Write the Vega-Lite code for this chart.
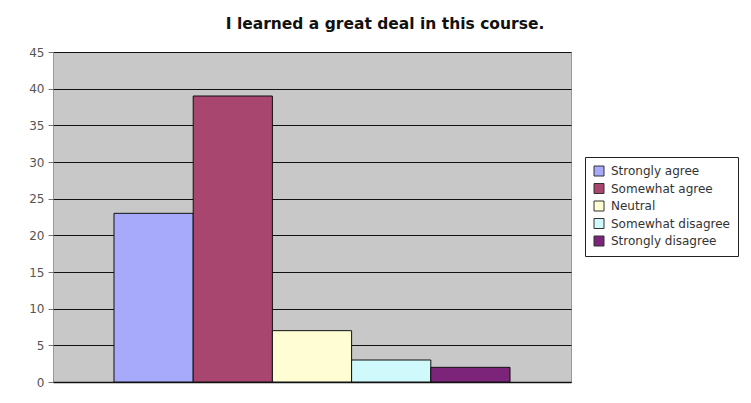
{
  "$schema": "https://vega.github.io/schema/vega-lite/v6.json",
  "autosize": {"type": "none"},
  "width": 518,
  "height": 330,
  "padding": {"left": 53, "top": 52, "right": 180, "bottom": 21},
  "background": "white",
  "title": {
    "text": "I learned a great deal in this course.",
    "font": "DejaVu Sans",
    "fontSize": 15.5,
    "fontWeight": "bold",
    "color": "#111111",
    "anchor": "middle",
    "frame": "group",
    "dx": 73,
    "offset": 14
  },
  "data": {
    "values": [
      {"response": "Strongly agree", "count": 23},
      {"response": "Somewhat agree", "count": 39},
      {"response": "Neutral", "count": 7},
      {"response": "Somewhat disagree", "count": 3},
      {"response": "Strongly disagree", "count": 2}
    ]
  },
  "mark": {"type": "bar", "stroke": "#111111", "strokeWidth": 1, "opacity": 1},
  "encoding": {
    "x": {
      "field": "response",
      "type": "nominal",
      "sort": null,
      "scale": {"paddingInner": 0, "paddingOuter": 0.77},
      "axis": {"labels": false, "ticks": false, "title": null, "domainColor": "#111111", "domainWidth": 1.5}
    },
    "y": {
      "field": "count",
      "type": "quantitative",
      "scale": {"domain": [0, 45]},
      "axis": {
        "values": [0, 5, 10, 15, 20, 25, 30, 35, 40, 45],
        "title": null,
        "grid": true,
        "gridColor": "#111111",
        "gridWidth": 1.2,
        "gridOpacity": 1,
        "domain": false,
        "tickColor": "#777777",
        "tickSize": 5,
        "labelFont": "DejaVu Sans",
        "labelFontSize": 12,
        "labelColor": "#555555",
        "labelPadding": 4
      }
    },
    "fill": {
      "field": "response",
      "type": "nominal",
      "sort": null,
      "scale": {
        "domain": ["Strongly agree", "Somewhat agree", "Neutral", "Somewhat disagree", "Strongly disagree"],
        "range": ["#A7A9FA", "#A8466F", "#FFFDD3", "#CFF9FA", "#7B2479"]
      },
      "legend": {
        "title": null,
        "orient": "none",
        "legendX": 532,
        "legendY": 105,
        "symbolType": "square",
        "symbolSize": 100,
        "symbolStrokeColor": "#333333",
        "symbolStrokeWidth": 1,
        "labelFont": "DejaVu Sans",
        "labelFontSize": 12,
        "labelColor": "#333333",
        "labelOffset": 6,
        "rowPadding": 3.5,
        "padding": 8,
        "strokeColor": "#222222",
        "fillColor": "white"
      }
    }
  },
  "config": {
    "view": {"fill": "#C8C8C8", "stroke": "#999999", "strokeWidth": 1}
  }
}
